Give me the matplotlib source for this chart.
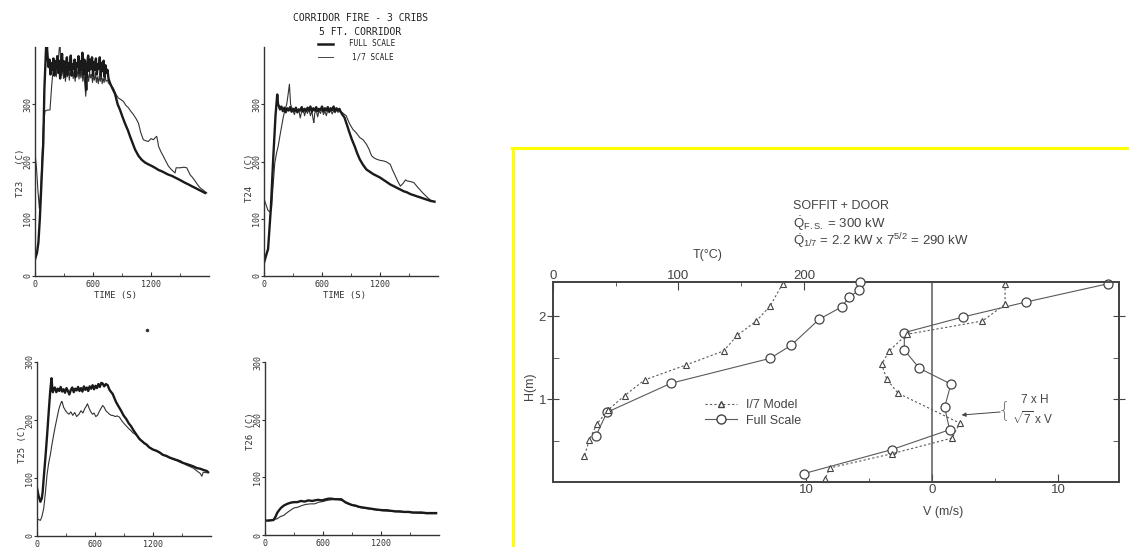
import matplotlib
matplotlib.use('Agg')
import matplotlib.pyplot as plt
from matplotlib.lines import Line2D

plt.rcParams['mathtext.fontset'] = 'custom'
plt.rcParams['mathtext.rm'] = 'Liberation Sans'
plt.rcParams['mathtext.it'] = 'Liberation Sans:italic'

# ---------------- data: corridor fire time series (time s, temperature C) ----
t23_full = [(0,29),(20,40),(35,58),(50,100),(62,145),(75,195),(86,233),(97,326),(110,380),(121,427),(126,395),
            (130,385),(140,365),(150,378),(160,352),(170,372),(180,360),(190,380),(200,350),(210,375),(220,362),
            (230,384),(240,355),(250,376),(260,345),(270,370),(280,388),(290,358),(300,375),(310,348),(320,368),
            (330,382),(340,352),(350,372),(360,360),(370,385),(380,350),(390,370),(400,362),(410,378),(420,348),
            (430,372),(440,365),(450,384),(460,355),(470,375),(480,360),(490,390),(500,352),(510,378),(520,368),
            (530,325),(540,372),(550,385),(560,358),(570,378),(580,362),(590,382),(600,350),(610,374),(620,360),
            (630,380),(640,352),(650,370),(660,362),(670,382),(680,350),(690,372),(700,358),(710,376),(720,348),
            (730,368),(740,355),(750,360),(760,345),(776,337),(800,328),(828,318),(855,300),(880,290),(905,278),
            (932,266),(960,255),(983,244),(1010,232),(1035,221),(1070,210),(1104,203),(1140,198),(1173,195),
            (1210,192),(1242,189),(1280,185),(1311,183),(1345,180),(1380,177),(1415,175),(1449,172),(1485,169),
            (1518,166),(1550,163),(1587,160),(1620,157),(1656,154),(1690,151),(1725,148),(1760,145)]
t23_model = [(0,215),(15,190),(30,150),(45,118),(60,150),(75,215),(86,262),(103,288),(130,290),(155,290),
             (172,331),(190,366),(200,352),(210,370),(220,348),(230,362),(240,375),(250,395),(258,413),(265,372),
             (275,350),(285,365),(295,345),(305,360),(315,340),(325,358),(335,348),(345,365),(355,342),(365,360),
             (375,350),(385,368),(395,345),(405,358),(415,340),(425,356),(435,348),(445,362),(455,344),(465,358),
             (475,346),(485,360),(495,340),(505,355),(515,336),(525,314),(535,345),(545,352),(555,340),(565,356),
             (575,346),(585,352),(595,338),(605,350),(615,342),(625,355),(635,338),(645,348),(655,336),(665,350),
             (675,340),(685,352),(695,336),(705,346),(715,338),(725,350),(735,340),(750,342),(760,337),(811,328),
             (835,318),(862,311),(890,308),(914,305),(940,298),(966,294),(990,288),(1018,282),(1045,275),(1070,267),
             (1095,250),(1121,238),(1150,236),(1173,235),(1200,240),(1225,238),(1245,242),(1259,244),(1270,235),
             (1277,227),(1300,218),(1328,209),(1355,200),(1380,192),(1410,186),(1449,180),(1460,189),(1501,189),
             (1540,190),(1570,189),(1590,182),(1604,177),(1630,172),(1656,166),(1680,160),(1708,154),(1740,150),
             (1777,145)]

t24_full = [(0,23),(20,35),(42,47),(70,116),(95,204),(119,280),(137,317),(145,300),(154,297),(165,291),(180,296),
            (195,288),(210,294),(225,286),(240,293),(255,289),(270,295),(285,287),(300,292),(315,288),(330,294),
            (345,286),(360,291),(375,289),(390,295),(405,287),(420,292),(435,288),(450,294),(465,289),(480,296),
            (495,287),(510,293),(525,289),(540,295),(555,288),(570,292),(585,290),(600,296),(615,288),(630,293),
            (645,289),(660,295),(675,287),(690,293),(705,290),(720,296),(735,288),(750,293),(765,289),(780,292),
            (790,288),(810,282),(832,277),(860,263),(885,250),(910,238),(937,227),(965,214),(990,204),(1025,194),
            (1060,186),(1095,182),(1130,178),(1165,175),(1200,172),(1235,168),(1271,164),(1305,160),(1341,157),
            (1375,154),(1411,151),(1445,148),(1481,146),(1515,143),(1551,141),(1585,139),(1622,137),(1655,135),
            (1692,133),(1725,131),(1762,130)]
t24_model = [(0,135),(20,125),(40,115),(60,112),(77,116),(95,160),(112,198),(130,215),(147,227),(165,245),
             (183,262),(200,278),(218,291),(235,300),(250,318),(263,335),(275,300),(288,294),(300,288),(315,282),
             (330,292),(345,285),(360,290),(375,276),(390,288),(405,292),(420,280),(435,290),(450,284),(465,292),
             (480,280),(495,288),(510,272),(516,268),(525,284),(540,290),(555,278),(570,289),(585,284),(600,292),
             (615,282),(630,288),(645,280),(660,290),(675,285),(690,291),(705,283),(720,289),(735,285),(750,290),
             (765,286),(790,288),(820,284),(850,280),(885,266),(920,256),(955,250),(990,242),(1025,238),(1060,230),
             (1085,222),(1113,210),(1140,206),(1165,204),(1200,202),(1236,201),(1270,199),(1306,195),(1330,185),
             (1358,175),(1385,165),(1411,157),(1440,162),(1465,168),(1481,166),(1515,165),(1551,163),(1585,156),
             (1622,149),(1655,143),(1692,137),(1720,133),(1745,131),(1770,129)]

t25_full = [(0,83),(15,70),(35,59),(50,65),(59,77),(72,105),(87,135),(105,175),(122,216),(137,250),(150,272),
            (157,258),(164,248),(170,252),(185,256),(200,248),(215,254),(230,250),(245,257),(260,249),(275,253),
            (290,247),(305,255),(320,250),(335,244),(350,252),(365,256),(380,248),(395,254),(410,251),(425,257),
            (440,250),(455,255),(470,249),(485,258),(500,252),(515,256),(530,250),(545,258),(560,254),(575,260),
            (590,253),(605,259),(620,255),(635,262),(650,257),(665,264),(679,263),(695,258),(713,262),(731,260),
            (750,252),(768,248),(783,245),(800,238),(818,231),(845,223),(870,216),(895,208),(922,202),(950,194),
            (970,190),(992,184),(1015,178),(1040,172),(1061,167),(1090,163),(1110,160),(1131,158),(1160,153),
            (1180,151),(1200,149),(1235,147),(1270,144),(1300,140),(1340,138),(1375,135),(1409,133),(1445,131),
            (1479,129),(1510,126),(1549,124),(1585,122),(1618,120),(1655,117),(1688,116),(1720,114),(1757,112),
            (1770,110)]
t25_model = [(0,30),(20,28),(35,27),(50,33),(70,48),(87,75),(104,106),(120,125),(139,141),(155,158),(174,176),
             (190,190),(209,205),(225,218),(240,226),(255,232),(261,231),(275,222),(296,216),(315,212),(331,210),
             (350,214),(370,208),(390,213),(410,206),(435,210),(455,216),(475,212),(495,220),(510,224),(522,228),
             (540,220),(557,214),(574,210),(590,212),(608,206),(626,208),(645,215),(662,220),(679,225),(695,222),
             (712,216),(731,213),(750,210),(768,208),(783,208),(810,206),(830,207),(853,205),(880,198),(900,194),
             (922,190),(950,185),(970,182),(992,178),(1020,175),(1061,168),(1100,161),(1131,157),(1170,152),
             (1200,149),(1240,146),(1270,143),(1310,140),(1340,137),(1380,134),(1409,132),(1445,130),(1479,127),
             (1520,125),(1549,122),(1590,119),(1618,117),(1655,112),(1688,108),(1705,103),(1720,110),(1757,109)]

t26_full = [(0,25),(40,25),(88,26),(110,32),(125,38),(141,42),(165,47),(194,51),(230,54),(265,56),(300,57),
            (335,57),(370,59),(410,58),(450,60),(490,59),(512,60),(550,61),(590,60),(630,62),(660,63),(688,63),
            (720,62),(750,62),(794,61),(830,57),(870,54),(900,52),(935,51),(970,49),(1000,48),(1041,47),(1080,46),
            (1120,45),(1160,44),(1218,43),(1260,43),(1300,42),(1350,41),(1394,41),(1440,40),(1490,40),(1530,39),
            (1571,39),(1620,39),(1670,38),(1720,38),(1770,38)]
t26_model = [(0,25),(60,26),(100,27),(124,28),(160,32),(194,34),(230,39),(265,43),(300,47),(335,48),(380,51),
             (420,53),(470,54),(512,54),(560,57),(600,58),(640,60),(688,61),(740,63),(794,63),(830,56),(870,53),
             (935,50),(1000,47),(1041,46),(1120,44),(1218,42),(1300,41),(1394,40),(1490,39),(1571,38),(1670,37),
             (1770,37)]

# ---------------- data: soffit + door profiles ----------------
temp_full_T = [245, 244, 236, 230, 212, 190, 173, 94, 43, 34]
temp_full_H = [2.41, 2.31, 2.23, 2.11, 1.96, 1.65, 1.49, 1.19, 0.84, 0.55]
temp_model_T = [183, 173, 162, 147, 136, 106, 73, 57, 44, 35, 29, 25]
temp_model_H = [2.39, 2.12, 1.94, 1.77, 1.58, 1.41, 1.23, 1.04, 0.87, 0.70, 0.51, 0.31]
vel_full_V = [14.0, 7.5, 2.5, -2.2, -2.2, -1.0, 1.5, 1.0, 1.4, -3.2, -10.2]
vel_full_H = [2.39, 2.17, 1.99, 1.80, 1.59, 1.37, 1.18, 0.90, 0.63, 0.39, 0.10]
vel_model_V = [5.8, 5.8, 4.0, -2.0, -3.4, -4.0, -3.6, -2.7, 2.2, 1.6, -3.2, -8.1, -8.5]
vel_model_H = [2.39, 2.14, 1.94, 1.78, 1.58, 1.42, 1.24, 1.07, 0.71, 0.53, 0.34, 0.17, 0.04]

time_ticks = [0, 600, 1200]
temp_ticks = [0, 100, 200, 300]

# ---------------- figure ----------------
W, H = 1129, 547
fig = plt.figure(figsize=(W / 100, H / 100), dpi=100)
fig.patch.set_facecolor('white')


def fpos(l, t, r, b):
    return [l / W, 1 - b / H, (r - l) / W, (b - t) / H]


def fxy(x, y):
    return (x / W, 1 - y / H)


MONO = 'DejaVu Sans Mono'
INK = '#1a1a1a'


def ts_panel(rect, ymax, full, model, ylabel, ylab_y, xlabel):
    ax = fig.add_axes(rect)
    ax.set_facecolor('none')
    ft, fT = zip(*full)
    mt, mT = zip(*model)
    ax.plot(mt, mT, color='#333333', lw=0.8)
    ax.plot(ft, fT, color=INK, lw=1.7)
    ax.set_xlim(0, 1800)
    ax.set_ylim(0, ymax)
    for s in ('top', 'right'):
        ax.spines[s].set_visible(False)
    for s in ('left', 'bottom'):
        ax.spines[s].set_color('#333333')
        ax.spines[s].set_linewidth(1.0)
    ax.set_xticks(time_ticks)
    ax.set_xticks([300, 900, 1500], minor=True)
    ax.set_yticks(temp_ticks)
    ax.tick_params(axis='y', direction='out', length=2, pad=0, labelsize=6, labelrotation=90,
                   colors='#333333')
    ax.tick_params(axis='x', which='both', direction='in', length=3, pad=3, labelsize=6,
                   colors='#333333')
    ax.tick_params(axis='x', which='minor', length=2)
    for lab in ax.get_xticklabels() + ax.get_yticklabels():
        lab.set_family(MONO)
    for lab in ax.get_yticklabels():
        lab.set_va('center')
    ax.text(-0.083, ylab_y, ylabel, transform=ax.transAxes, rotation=90,
            ha='center', va='center', family=MONO, fontsize=6.5, color='#333333')
    if xlabel:
        ax.text(0.46, -0.083, xlabel, transform=ax.transAxes, ha='center', va='center',
                family=MONO, fontsize=6.5, color='#333333')
    return ax


ts_panel(fpos(35, 47, 209, 276), 400, t23_full, t23_model, "T23   (C)", 0.45, "TIME (S)")
ts_panel(fpos(264, 47, 438, 276), 400, t24_full, t24_model, "T24   (C)", 0.43, "TIME (S)")
ts_panel(fpos(37, 362, 211, 536), 300, t25_full, t25_model, "T25 (C)", 0.53, None)
ts_panel(fpos(265, 362, 439, 535), 300, t26_full, t26_model, "T26 (C)", 0.60, None)

# legend / title of the corridor plots
fig.text(*fxy(361, 18), "CORRIDOR FIRE - 3 CRIBS", ha='center', va='center', family=MONO,
         fontsize=7, color='#222222')
fig.text(*fxy(360, 32), "5 FT. CORRIDOR", ha='center', va='center', family=MONO,
         fontsize=7, color='#222222')
fig.add_artist(Line2D([318 / W, 333 / W], [1 - 44 / H] * 2, color=INK, lw=1.8, transform=fig.transFigure))
fig.add_artist(Line2D([318 / W, 333 / W], [1 - 57 / H] * 2, color='#444444', lw=0.7, transform=fig.transFigure))
fig.text(*fxy(349, 44), "FULL SCALE", ha='left', va='center', family=MONO, fontsize=5.5, color='#222222')
fig.text(*fxy(352, 57), "1/7 SCALE", ha='left', va='center', family=MONO, fontsize=5.5, color='#222222')
fig.add_artist(Line2D([147 / W], [1 - 330 / H], marker='o', ms=1.5, color='#333333', lw=0,
                      transform=fig.transFigure))

# yellow frame of the right-hand picture
YEL = '#ffff00'
fig.add_artist(Line2D([513 / W, 513 / W], [0, 1 - 148 / H], color=YEL, lw=2.2, transform=fig.transFigure))
fig.add_artist(Line2D([512 / W, 1.0], [1 - 148 / H] * 2, color=YEL, lw=2.2, transform=fig.transFigure))

# ---------------- soffit + door profile plot ----------------
SANS = 'Liberation Sans'
GREY = '#444444'
LINE = '#5a5a5a'
ax = fig.add_axes(fpos(553, 282, 1119, 482))
ax.set_facecolor('none')
ax.set_xlim(-30.1, 14.85)
ax.set_ylim(0, 2.41)
for s in ax.spines.values():
    s.set_color(GREY)
    s.set_linewidth(1.3)
ax.axvline(0, color=LINE, lw=1.1)
ax.plot(vel_full_V, vel_full_H, color=LINE, lw=0.8, marker='o', ms=6.5, mfc='white', mec=GREY,
        mew=0.9, clip_on=False, zorder=3)
ax.plot(vel_model_V, vel_model_H, color=LINE, lw=0.8, ls=(0, (2, 2)), marker='^', ms=5, mfc='white',
        mec=GREY, mew=0.8, clip_on=False, zorder=3)
ax.set_xticks([-10, 0, 10], labels=['10', '0', '10'])
ax.set_xticks([-5, 5], minor=True)
ax.set_yticks([1, 2], labels=['1', '2'])
ax.set_yticks([0.5, 1.5], minor=True)
ax.tick_params(axis='x', which='major', direction='in', length=6, pad=1.5, labelsize=9.5, colors=GREY)
ax.tick_params(axis='x', which='minor', direction='in', length=3, colors=GREY)
ax.tick_params(axis='y', which='major', direction='inout', length=8, pad=1, labelsize=9.5, colors=GREY,
               right=True)
ax.tick_params(axis='y', which='minor', direction='in', length=4, colors=GREY, right=True)
ax.tick_params(top=False)
for lab in ax.get_xticklabels() + ax.get_yticklabels():
    lab.set_family(SANS)
ax.text(-0.04, 0.48, "H(m)", transform=ax.transAxes, rotation=90, ha='center', va='center',
        family=SANS, fontsize=9, color=GREY)
ax.text(0.69, -0.15, "V (m/s)", transform=ax.transAxes, ha='center', va='center',
        family=SANS, fontsize=9, color=GREY)

ax2 = ax.twiny()
ax2.set_xlim(0, 451)
ax2.plot(temp_full_T, temp_full_H, color=LINE, lw=0.8, marker='o', ms=6.5, mfc='white', mec=GREY,
         mew=0.9, clip_on=False, zorder=3)
ax2.plot(temp_model_T, temp_model_H, color=LINE, lw=0.8, ls=(0, (2, 2)), marker='^', ms=5, mfc='white',
         mec=GREY, mew=0.8, clip_on=False, zorder=3)
ax2.set_xticks([0, 100, 200])
ax2.set_xticks([50, 150], minor=True)
ax2.tick_params(axis='x', which='major', direction='in', length=6, pad=0, labelsize=9.5, colors=GREY)
ax2.tick_params(axis='x', which='minor', direction='in', length=3, colors=GREY)
for lab in ax2.get_xticklabels():
    lab.set_family(SANS)
for s in ax2.spines.values():
    s.set_color(GREY)
    s.set_linewidth(1.3)
ax2.text(0.274, 1.135, "T(°C)", transform=ax2.transAxes, ha='center', va='center',
         family=SANS, fontsize=9, color=GREY)

h_model = Line2D([], [], color=LINE, lw=0.8, ls=(0, (2, 2)), marker='^', ms=5, mfc='white', mec=GREY)
h_full = Line2D([], [], color=LINE, lw=0.8, marker='o', ms=6.5, mfc='white', mec=GREY)
leg = ax2.legend([h_model, h_full], ["I/7 Model", "Full Scale"], loc='upper left',
                 bbox_to_anchor=(0.268, 0.415), frameon=False, handlelength=2.6, handletextpad=0.7,
                 labelspacing=0.3, borderpad=0, borderaxespad=0,
                 prop={'family': SANS, 'size': 9})
for t in leg.get_texts():
    t.set_color(GREY)

# annotation for scaling
ax2.text(0.852, 0.41, "7 x H", transform=ax2.transAxes, ha='center', va='center',
         family=SANS, fontsize=8.5, color=GREY)
ax2.text(0.848, 0.315, r"$\sqrt{7}$ x V", transform=ax2.transAxes, ha='center', va='center',
         family=SANS, fontsize=8.5, color=GREY)
ax2.text(0.797, 0.36, "{", transform=ax2.transAxes, ha='center', va='center',
         family='DejaVu Sans', fontsize=15, color='#777777', fontweight='light')
ax2.annotate('', xy=(0.722, 0.335), xytext=(0.79, 0.35), xycoords='axes fraction',
             arrowprops=dict(arrowstyle='-|>', lw=0.7, color=GREY, mutation_scale=6,
                             shrinkA=0, shrinkB=0))

# header text
fig.text(*fxy(793, 206), "SOFFIT + DOOR", ha='left', va='center', family=SANS, fontsize=9, color=GREY)
fig.text(*fxy(793, 224), r"$\dot{\mathrm{Q}}_{\mathrm{F.S.}}$ = 300 kW", ha='left', va='center',
         family=SANS, fontsize=9.5, color=GREY)
fig.text(*fxy(793, 241), r"$\dot{\mathrm{Q}}_{1/7}$ = 2.2 kW x 7$^{5/2}$ = 290 kW", ha='left',
         va='center', family=SANS, fontsize=9.5, color=GREY)

fig.savefig('out.png', dpi=100, facecolor='white')
